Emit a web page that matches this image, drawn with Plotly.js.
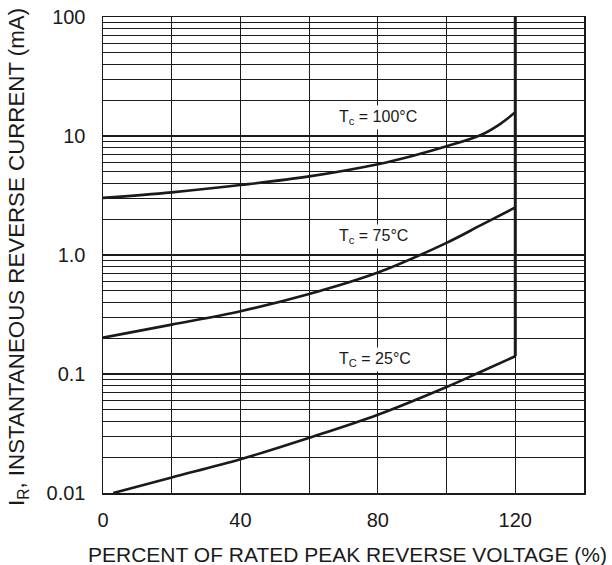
<!DOCTYPE html>
<html>
<head>
<meta charset="utf-8">
<script src="https://cdn.plot.ly/plotly-3.0.1.min.js"></script>
<style>html,body{margin:0;padding:0;background:#fff;}#chart{width:612px;height:565px;}</style>
</head>
<body>
<div id="chart"></div>
<script>
// Percent of rated peak reverse voltage (%)
var x100 = [0, 20, 40, 60, 80, 90, 100, 110, 115, 120];
var x75 = [0, 20, 40, 60, 80, 100, 110, 120];
var x25 = [3, 20, 40, 60, 80, 100, 110, 120];
// Instantaneous reverse current (mA)
var ir100 = [3.02, 3.36, 3.87, 4.58, 5.80, 6.8, 8.2, 10.2, 12.3, 15.8];
var ir75 = [0.202, 0.26, 0.337, 0.47, 0.712, 1.266, 1.78, 2.51];
var ir25 = [0.01, 0.0135, 0.0192, 0.0291, 0.0455, 0.0778, 0.1045, 0.141];
// Rated-voltage limit line
var limitX = [120, 120];
var limitY = [0.141, 100];
// Ticks
var xTickVals = [0, 20, 40, 60, 80, 100, 120, 140];
var xTickText = ["0", "", "40", "", "80", "", "120", ""];
var yTickVals = [0.01, 0.1, 1, 10, 100];
var yTickText = ["0.01", "0.1", "1.0", "10", "100"];
var decades = [0.01, 0.1, 1, 10];
var minorDigits = [2, 3, 4, 5, 6, 7, 8, 9];
// Curve labels
var labelText = ["T<sub>c</sub> = 100°C", "T<sub>c</sub> = 75°C", "T<sub>C</sub> = 25°C"];
var labelX = [80, 78.6, 79.3];
var labelY = [14.2, 1.44, 0.1326];

var minorVals = [];
decades.forEach(function (d) { minorDigits.forEach(function (m) { minorVals.push(+(d * m).toPrecision(3)); }); });

var font = "Liberation Sans, Arial, Helvetica, sans-serif";
var ink = "#1a1a1a";
var lineStyle = {color: ink, width: 2.6, shape: "spline", smoothing: 1};

var traces = [
  {x: x100, y: ir100, mode: "lines", line: lineStyle, hoverinfo: "skip"},
  {x: x75, y: ir75, mode: "lines", line: lineStyle, hoverinfo: "skip"},
  {x: x25, y: ir25, mode: "lines", line: lineStyle, hoverinfo: "skip"},
  {x: limitX, y: limitY, mode: "lines", line: {color: ink, width: 3}, hoverinfo: "skip"}
];

var annotations = labelText.map(function (t, i) {
  return {x: labelX[i], y: Math.log10(labelY[i]), xref: "x", yref: "y", text: t,
    showarrow: false, bgcolor: "#ffffff", borderpad: 2,
    font: {family: font, size: 16, color: ink}};
});
annotations.push({xref: "paper", yref: "paper", x: 0, y: 0, xanchor: "left", yanchor: "middle",
  xshift: -17, yshift: -61, text: "PERCENT OF RATED PEAK REVERSE VOLTAGE (%)", showarrow: false,
  font: {family: font, size: 21, color: ink}});
annotations.push({xref: "paper", yref: "paper", x: 0, y: 0.5, xanchor: "center", yanchor: "middle",
  xshift: -85, yshift: -2, textangle: -90, text: "I<sub>R</sub>, INSTANTANEOUS REVERSE CURRENT (mA)", showarrow: false,
  font: {family: font, size: 22.3, color: ink}});

var layout = {
  width: 612, height: 565,
  margin: {l: 103, r: 28, t: 17, b: 72, pad: 0},
  paper_bgcolor: "#ffffff", plot_bgcolor: "#ffffff",
  showlegend: false,
  font: {family: font, color: ink},
  xaxis: {
    range: [0, 140], tickmode: "array", tickvals: xTickVals, ticktext: xTickText,
    showgrid: true, gridcolor: ink, gridwidth: 1.2, zeroline: false,
    showline: true, mirror: true, linecolor: ink, linewidth: 1.5,
    ticks: "outside", ticklen: 8, tickcolor: "rgba(0,0,0,0)",
    tickfont: {family: font, size: 20, color: ink}
  },
  yaxis: {
    type: "log", range: [-2, 2], tickmode: "array", tickvals: yTickVals, ticktext: yTickText,
    showgrid: true, gridcolor: ink, gridwidth: 1.2, zeroline: false,
    showline: true, mirror: true, linecolor: ink, linewidth: 1.5,
    ticks: "outside", ticklen: 12, tickcolor: "rgba(0,0,0,0)",
    tickfont: {family: font, size: 20, color: ink},
    minor: {tickmode: "array", tickvals: minorVals, showgrid: true, gridcolor: ink, gridwidth: 1.2, ticks: ""}
  },
  annotations: annotations
};

Plotly.newPlot("chart", traces, layout, {staticPlot: true, displayModeBar: false});
</script>
</body>
</html>
